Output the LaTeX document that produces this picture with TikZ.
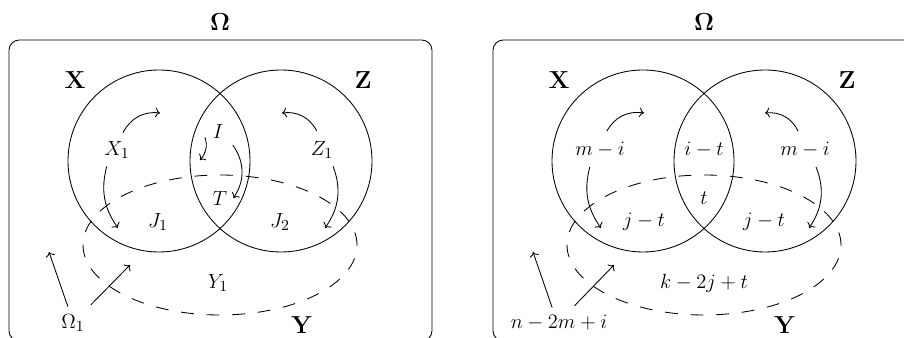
\documentclass[tikz,border=0pt]{standalone}
\usepackage{amsmath,amssymb}
\usepackage{tikz}
\usetikzlibrary{arrows.meta}

\begin{document}
\begin{tikzpicture}[x=0.585pt,y=0.585pt,line width=0.5pt,
  every node/.style={font=\fontsize{12.5}{15}\selectfont},
  frame/.style={draw,rounded corners=6pt},
  setname/.style={font=\Large},
  yset/.style={draw,dash pattern=on 7.5pt off 7.5pt},
  arr/.style={->}]
\useasboundingbox (0,0) rectangle (904,338);
\clip (0,0) rectangle (904,338);
% left panel: named parts
\begin{scope}
\draw[frame] (9,298) rectangle (432,-3);
\node[setname] (lom) at (220,316) {$\mathbf{\Omega}$};
\coordinate (lcx) at (159,177);
\coordinate (lcz) at (281,177);
\coordinate (lcy) at (220,93);
\draw (lcx) circle[radius=91];
\draw (lcz) circle[radius=91];
\draw[yset] (lcy) ellipse[x radius=137,y radius=70];
\node[setname] (lx) at (75,258) {$\mathbf{X}$};
\node[setname] (lz) at (363,258) {$\mathbf{Z}$};
\node[setname] (ly) at (302,13) {$\mathbf{Y}$};
\node (lxa) at (117,188) {$X_1$};
\node (lza) at (322,188) {$Z_1$};
\node (li) at (218,206) {$I$};
\node (lt) at (220,140) {$T$};
\node (lja) at (158,116) {$J_1$};
\node (ljb) at (280,116) {$J_2$};
\node (lya) at (218,55) {$Y_1$};
\node (lo) at (73,15) {$\Omega_1$};
\coordinate (lxup) at (160,225);
\coordinate (lxdn) at (118,110);
\coordinate (lzup) at (282,225);
\coordinate (lzdn) at (325,110);
\coordinate (lidn) at (200,178);
\coordinate (loa) at (49,86);
\coordinate (lob) at (130,73);
\draw[arr] ([shift={(3.5pt,1.5pt)}]lxa.north) to[bend left=35] (lxup);
\draw[arr] ([shift={(-6pt,-1pt)}]lxa.south) to[bend right=25] (lxdn);
\draw[arr] ([shift={(-3pt,2.5pt)}]lza.north) to[bend right=35] (lzup);
\draw[arr] ([shift={(6.5pt,-1pt)}]lza.south) to[bend left=28] (lzdn);
\draw[arr] ([shift={(-1pt,-3pt)}]li.west) to[bend left=30] (lidn);
\draw[arr] ([xshift=2pt]li.south east) to[bend left=35] (lt.east);
\draw[arr] ([shift={(-3pt,1pt)}]lo.north) -- (loa);
\draw[arr] ([shift={(0pt,2pt)}]lo.north east) -- (lob);
\end{scope}
% right panel: counts
\begin{scope}[shift={(484,0)}]
\draw[frame] (9,298) rectangle (432,-3);
\node[setname] (rom) at (220,316) {$\mathbf{\Omega}$};
\coordinate (rcx) at (159,177);
\coordinate (rcz) at (281,177);
\coordinate (rcy) at (220,93);
\draw (rcx) circle[radius=91];
\draw (rcz) circle[radius=91];
\draw[yset] (rcy) ellipse[x radius=137,y radius=70];
\node[setname] (rx) at (75,258) {$\mathbf{X}$};
\node[setname] (rz) at (363,258) {$\mathbf{Z}$};
\node[setname] (ry) at (301,13) {$\mathbf{Y}$};
\node (rxa) at (116,188) {$m-i$};
\node (rza) at (321,188) {$m-i$};
\node (ri) at (220,188) {$i-t$};
\node (rt) at (220,140) {$t$};
\node (rja) at (160,116) {$j-t$};
\node (rjb) at (280,116) {$j-t$};
\node (rya) at (220,55) {$k-2j+t$};
\node (ro) at (75,15) {$n-2m+i$};
\coordinate (rxup) at (160,225);
\coordinate (rxdn) at (117,110);
\coordinate (rzup) at (281,225);
\coordinate (rzdn) at (325,110);
\coordinate (roa) at (49,86);
\coordinate (rob) at (130,73);
\draw[arr] ([shift={(4pt,3pt)}]rxa.north) to[bend left=35] (rxup);
\draw[arr] ([shift={(-6pt,-2pt)}]rxa.south) to[bend right=25] (rxdn);
\draw[arr] ([shift={(-4pt,3pt)}]rza.north) to[bend right=35] (rzup);
\draw[arr] ([shift={(6.5pt,-2pt)}]rza.south) to[bend left=28] (rzdn);
\draw[arr] ([shift={(-4pt,1pt)}]ro.north) -- (roa);
\draw[arr] ([shift={(9pt,2pt)}]ro.north) -- (rob);
\end{scope}
\end{tikzpicture}
\end{document}
